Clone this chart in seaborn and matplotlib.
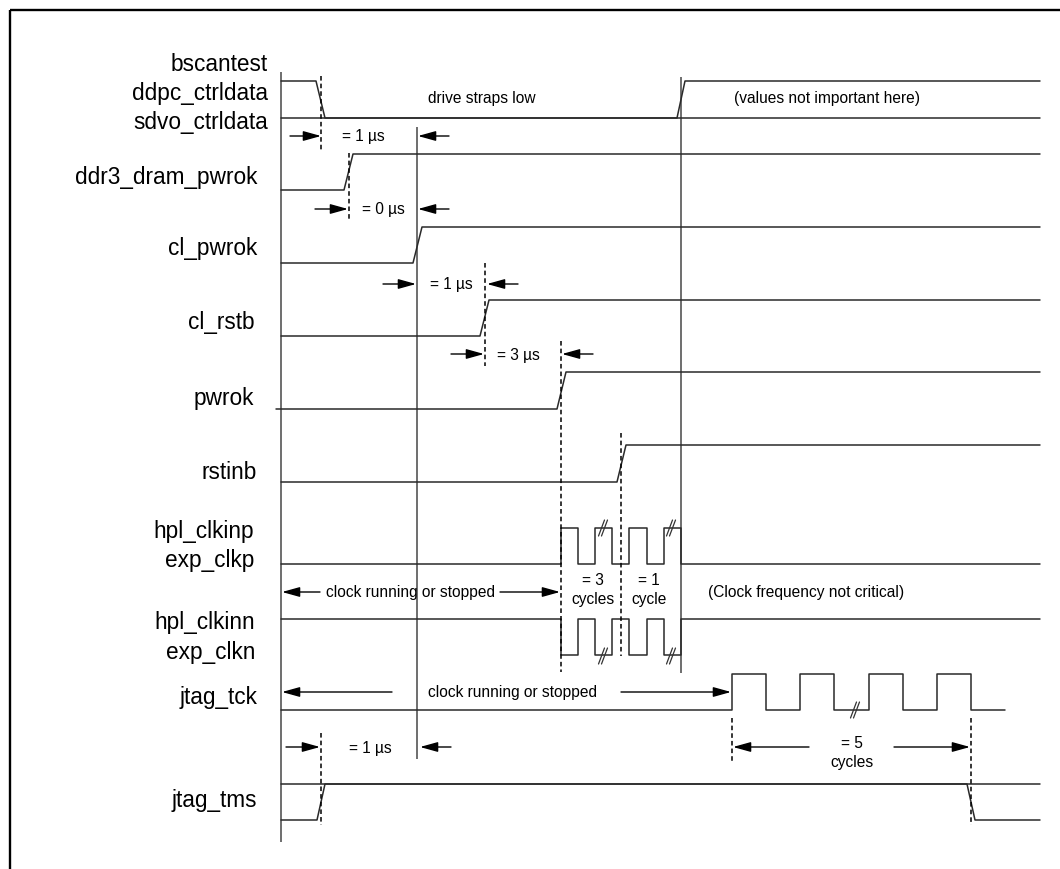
import matplotlib
matplotlib.use("Agg")
import matplotlib.pyplot as plt
import seaborn as sns
import pandas as pd

sns.set_theme(style="white")
plt.rcParams['font.family'] = ['Liberation Sans', 'DejaVu Sans']

# ---------------- data ----------------
signal_names = ["sig_ctrl", "ddr3_dram_pwrok", "cl_pwrok", "cl_rstb", "pwrok",
                "rstinb", "clkp", "clkn", "jtag_tck", "jtag_tms"]

# waveforms: (time, level) breakpoints; level 1 = high, 0 = low
wave_ctrl_main = [(281, 1), (316, 1), (325, 0), (677, 0), (685, 1), (1040, 1)]
wave_ctrl_low = [(281, 0), (1040, 0)]
wave_ddr3 = [(281, 0), (344, 0), (353, 1), (1040, 1)]
wave_cl_pwrok = [(281, 0), (413, 0), (422, 1), (1040, 1)]
wave_cl_rstb = [(281, 0), (480, 0), (489, 1), (1040, 1)]
wave_pwrok = [(276, 0), (557, 0), (566, 1), (1040, 1)]
wave_rstinb = [(281, 0), (617, 0), (626, 1), (1040, 1)]
clk_p_edges = [561, 578, 595, 612, 629, 647, 664, 681]
tck_edges = [732, 766, 800, 834, 869, 903, 937, 971]
wave_tms_main = [(281, 0), (317, 0), (325, 1), (967, 1), (975, 0), (1040, 0)]
wave_tms_high = [(281, 1), (1040, 1)]

# label text
label_texts = [("bscantest", 71), ("ddpc_ctrldata", 100), ("sdvo_ctrldata", 129),
               ("ddr3_dram_pwrok", 184), ("cl_pwrok", 255), ("cl_rstb", 329),
               ("pwrok", 405), ("rstinb", 479), ("hpl_clkinp", 538), ("exp_clkp", 567),
               ("hpl_clkinn", 629), ("exp_clkn", 659), ("jtag_tck", 704), ("jtag_tms", 807)]
label_right = [268, 268, 268, 257, 257, 255, 254, 257, 254, 254, 255, 255, 257, 257]

# ---------------- layout ----------------
row_levels = {  # (y_high, y_low) in figure pixels
    "sig_ctrl": (81, 118), "ddr3_dram_pwrok": (154, 190), "cl_pwrok": (227, 263),
    "cl_rstb": (300, 336), "pwrok": (372, 409), "rstinb": (445, 482),
    "clkp": (528, 564), "clkn": (619, 655), "jtag_tck": (674, 710), "jtag_tms": (784, 820),
}


def clock_wave(edges, start, end, first_level):
    pts = [(start, 1 - first_level)]
    lvl = 1 - first_level
    for e in edges:
        pts.append((e, lvl))
        lvl = 1 - lvl
        pts.append((e, lvl))
    pts.append((end, lvl))
    return pts


waves = [
    ("sig_ctrl", wave_ctrl_low), ("sig_ctrl", wave_ctrl_main),
    ("ddr3_dram_pwrok", wave_ddr3), ("cl_pwrok", wave_cl_pwrok),
    ("cl_rstb", wave_cl_rstb), ("pwrok", wave_pwrok), ("rstinb", wave_rstinb),
    ("clkp", clock_wave(clk_p_edges, 281, 1040, 1)),
    ("clkn", clock_wave(clk_p_edges, 281, 1040, 0)),
    ("jtag_tck", clock_wave(tck_edges, 281, 1005, 1)),
    ("jtag_tms", wave_tms_high), ("jtag_tms", wave_tms_main),
]

rows = []
for i, (sig, pts) in enumerate(waves):
    yh, yl = row_levels[sig]
    for t, lv in pts:
        rows.append({"seg": i, "t": t, "y": yh if lv else yl})
df = pd.DataFrame(rows)

W, H = 1060, 869
fig = plt.figure(figsize=(W / 100, H / 100), dpi=100)
ax = fig.add_axes([0, 0, 1, 1])
ax.set_xlim(0, W)
ax.set_ylim(H, 0)
ax.axis("off")

# frame (top & left visible)
ax.plot([10, W + 5], [10, 10], color="black", lw=1.7, solid_capstyle="butt")
ax.plot([10, 10], [10, H + 5], color="black", lw=1.7, solid_capstyle="butt")

# reference vertical lines
for x, y0, y1 in [(281, 72, 842), (417, 127, 759), (681, 77, 673)]:
    ax.vlines(x, y0, y1, color="#555555", lw=1.2)

sns.lineplot(data=df, x="t", y="y", units="seg", estimator=None, sort=False,
             color="#2a2a2a", lw=1.1, ax=ax, legend=False)
ax.set_xlim(0, W)
ax.set_ylim(H, 0)
ax.axis("off")

# dashed markers
for x, y0, y1 in [(321, 76, 150), (349, 153, 221), (485, 263, 366), (561, 341, 672),
                  (621, 433, 656), (321, 733, 825), (732, 718, 763), (971, 718, 825)]:
    ax.vlines(x, y0, y1, color="black", lw=1.1, linestyles=(0, (3, 2)))

# arrows
arrows = [((290, 136), (321, 136)), ((449, 136), (418, 136)),
          ((315, 209), (348, 209)), ((449, 209), (418, 209)),
          ((383, 284), (416, 284)), ((518, 284), (487, 284)),
          ((451, 354), (484, 354)), ((593, 354), (562, 354)),
          ((320, 592), (282, 592)), ((500, 592), (560, 592)),
          ((392, 692), (282, 692)), ((621, 692), (731, 692)),
          ((286, 747), (320, 747)), ((451, 747), (420, 747)),
          ((809, 747), (733, 747)), ((894, 747), (970, 747))]
for tail, head in arrows:
    ax.annotate("", xy=head, xytext=tail,
                arrowprops=dict(arrowstyle="-|>,head_length=0.9,head_width=0.25",
                                color="black", lw=1.0, shrinkA=0, shrinkB=0))

# break marks
for bx, by in [(603, 528), (671, 528), (603, 656), (671, 656), (855, 710)]:
    for dx in (-1.5, 1.5):
        ax.plot([bx + dx - 3, bx + dx + 3], [by + 8, by - 8], color="#333333", lw=0.9)

# signal labels
for (txt, yb), xr in zip(label_texts, label_right):
    ax.text(xr, yb, txt, ha="right", va="baseline", fontsize=16.3, color="black")

# annotation texts
small = 11.2
notes = [
    ("drive straps low", 428, 103, "left"),
    ("(values not important here)", 734, 103, "left"),
    ("= 1 µs", 342, 141, "left"),
    ("= 0 µs", 362, 214, "left"),
    ("= 1 µs", 430, 289, "left"),
    ("= 3 µs", 497, 360, "left"),
    ("clock running or stopped", 326, 597, "left"),
    ("= 3", 593, 585, "center"),
    ("cycles", 593, 604, "center"),
    ("= 1", 649, 585, "center"),
    ("cycle", 649, 604, "center"),
    ("(Clock frequency not critical)", 708, 597, "left"),
    ("clock running or stopped", 428, 697, "left"),
    ("= 1 µs", 349, 753, "left"),
    ("= 5", 852, 748, "center"),
    ("cycles", 852, 767, "center"),
]
for txt, x, y, ha in notes:
    ax.text(x, y, txt, ha=ha, va="baseline", fontsize=small, color="black")

fig.savefig("out.png", dpi=100, facecolor="white")
